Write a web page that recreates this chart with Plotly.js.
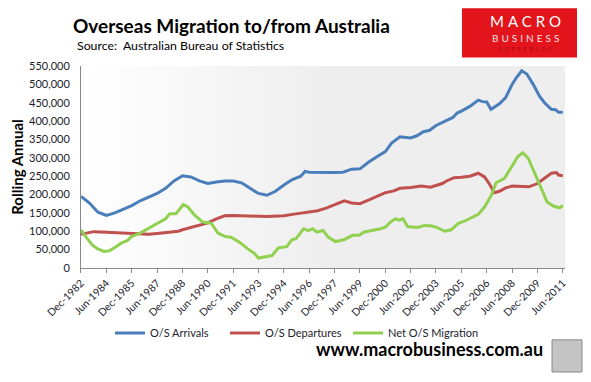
<!DOCTYPE html>
<html>
<head>
<meta charset="utf-8">
<script src="https://cdn.plot.ly/plotly-3.0.1.min.js"></script>
<style>
  html, body { margin: 0; padding: 0; background: #ffffff; }
  #chart { width: 591px; height: 382px; }
</style>
</head>
<body>
<div id="chart"></div>
<script>
// ---- Data (thousands of people, rolling annual), x = decimal year ----
const arrivalsX = [1982.92,1983.42,1983.92,1984.42,1984.92,1985.42,1985.92,1986.42,1986.92,1987.42,1987.92,1988.42,1988.92,1989.42,1989.92,1990.42,1990.92,1991.42,1991.92,1992.42,1992.92,1993.42,1993.92,1994.42,1994.92,1995.42,1995.92,1996.17,1996.42,1996.92,1997.92,1998.42,1998.92,1999.42,1999.92,2000.42,2000.92,2001.29,2001.79,2002.42,2002.79,2003.17,2003.54,2003.92,2004.42,2004.92,2005.17,2005.42,2005.92,2006.42,2006.67,2006.92,2007.17,2007.67,2008.04,2008.42,2008.67,2008.99,2009.29,2009.67,2010.04,2010.34,2010.74,2010.99,2011.17,2011.42];
const arrivals  = [195,177,152,143,150,160,170,183,194,203,217,237,251,248,237,230,234,237,237,232,217,203,198,209,226,241,250,263,261,260,260,261,269,270,288,303,317,340,357,354,360,371,375,388,399,410,422,427,440,457,453,452,432,447,464,500,518,537,528,500,468,450,432,431,424,424];

const departuresX = [1982.92,1983.42,1983.67,1984.42,1984.92,1985.42,1985.92,1986.42,1986.92,1987.42,1987.92,1988.42,1988.67,1988.92,1989.42,1989.92,1990.42,1990.92,1991.42,1991.92,1992.42,1992.92,1993.42,1993.92,1994.42,1994.92,1995.42,1995.92,1996.42,1996.92,1997.42,1997.92,1998.49,1998.92,1999.42,1999.92,2000.42,2000.92,2001.42,2001.79,2002.42,2003.04,2003.59,2003.92,2004.29,2004.54,2004.99,2005.42,2005.92,2006.42,2006.79,2007.09,2007.37,2007.67,2008.04,2008.42,2008.92,2009.42,2009.92,2010.24,2010.74,2011.04,2011.17,2011.42];
const departures  = [92,96,99,97,96,94,92,91,92,94,96,98,100,104,111,117,123,134,142,143,143,143,141,140,140,142,146,149,152,156,163,172,183,177,175,185,196,205,210,217,219,223,220,224,230,237,246,247,250,258,248,228,205,209,218,223,221,221,230,241,258,260,253,251];

const netX = [1982.92,1983.22,1983.62,1983.92,1984.27,1984.59,1984.92,1985.27,1985.67,1985.92,1986.42,1986.92,1987.42,1987.92,1988.17,1988.54,1988.97,1989.24,1989.64,1990.12,1990.62,1991.02,1991.42,1991.79,1992.29,1992.79,1993.17,1993.42,1993.92,1994.22,1994.59,1995.09,1995.39,1995.64,1996.09,1996.37,1996.62,1996.87,1997.24,1997.54,1997.97,1998.47,1998.97,1999.37,1999.67,2000.14,2000.64,2000.92,2001.22,2001.52,2001.72,2001.97,2002.24,2002.59,2002.89,2003.22,2003.59,2003.94,2004.29,2004.44,2004.82,2005.22,2005.62,2005.99,2006.42,2006.79,2007.19,2007.47,2007.97,2008.37,2008.74,2009.04,2009.37,2009.72,2010.12,2010.49,2010.89,2011.24,2011.42];
const net  = [104,84,61,52,45,47,56,67,75,86,95,107,121,134,148,148,173,166,144,125,122,95,86,84,70,52,40,27,31,34,55,58,77,80,107,102,107,98,102,84,72,77,89,89,98,102,107,111,125,134,130,134,113,111,111,116,115,111,102,100,104,121,128,136,146,166,198,232,244,274,302,314,299,262,221,180,168,164,170];

const seriesNames = ["O/S Arrivals", "O/S Departures", "Net O/S Migration"];
const seriesColors = ["#4a7ebb", "#c0504d", "#92d050"];

const xTickLabels = ["Dec-1982","Jun-1984","Dec-1985","Jun-1987","Dec-1988","Jun-1990","Dec-1991","Jun-1993","Dec-1994","Jun-1996","Dec-1997","Jun-1999","Dec-2000","Jun-2002","Dec-2003","Jun-2005","Dec-2006","Jun-2008","Dec-2009","Jun-2011"];

const titleText = "Overseas Migration to/from Australia";
const sourceText = "Source:  Australian Bureau of Statistics";
const yTitleText = "Rolling Annual";
const footerText = "www.macrobusiness.com.au";

// ---- Helpers ----
const monthIdx = {Jan:0,Feb:1,Mar:2,Apr:3,May:4,Jun:5,Jul:6,Aug:7,Sep:8,Oct:9,Nov:10,Dec:11};
const tickVals = xTickLabels.map(s => { const [m, y] = s.split("-"); return +y + monthIdx[m] / 12; });
const toPeople = arr => arr.map(v => v * 1000);

const FONT = "Lato, 'Open Sans', sans-serif";
const TXT = "#1c1c2c";

const xs = [arrivalsX, departuresX, netX];
const ys = [arrivals, departures, net];
const legendWidths = [70, 78, 90];

const traces = seriesNames.map((name, i) => ({
  type: "scatter",
  mode: "lines",
  name: name,
  x: xs[i],
  y: toPeople(ys[i]),
  line: { color: seriesColors[i], width: 3 },
  legendwidth: legendWidths[i],
  hoverinfo: "skip"
}));

const bgSvg = "data:image/svg+xml;utf8," + encodeURIComponent(
  '<svg xmlns="http://www.w3.org/2000/svg" width="100" height="100" preserveAspectRatio="none">' +
  '<defs><linearGradient id="g" x1="0" x2="1" y1="0" y2="0">' +
  '<stop offset="0" stop-color="#ffffff"/><stop offset="0.5" stop-color="#eeeeee"/><stop offset="1" stop-color="#eeeeee"/>' +
  '</linearGradient></defs><rect width="100" height="100" fill="url(#g)"/></svg>');

const layout = {
  width: 591,
  height: 382,
  margin: { l: 81, r: 26, t: 66, b: 114, pad: 0 },
  paper_bgcolor: "#ffffff",
  plot_bgcolor: "rgba(0,0,0,0)",
  font: { family: FONT, color: TXT, size: 11 },
  title: {
    text: "<b>" + titleText + "</b>",
    font: { family: FONT, size: 19, color: "#000000" },
    xref: "container", yref: "container",
    x: 73 / 591, xanchor: "left",
    y: 1 - 26 / 382, yanchor: "middle"
  },
  xaxis: {
    type: "linear",
    range: [1982.917, 2011.55],
    tickmode: "array",
    tickvals: tickVals,
    ticktext: xTickLabels,
    tickangle: -45,
    ticks: "outside",
    ticklen: 4,
    tickcolor: "#888888",
    showline: true,
    linecolor: "#888888",
    linewidth: 1,
    showgrid: false,
    zeroline: false,
    tickfont: { family: FONT, size: 10.5, color: TXT },
    fixedrange: true
  },
  yaxis: {
    range: [0, 550000],
    dtick: 50000,
    tick0: 0,
    tickformat: ",d",
    ticks: "",
    showline: true,
    linecolor: "#888888",
    linewidth: 1,
    showgrid: false,
    zeroline: false,
    ticklabelstandoff: 8,
    tickfont: { family: FONT, size: 11, color: TXT },
    title: { text: "<b>" + yTitleText + "</b>", font: { family: FONT, size: 15, color: "#000000" }, standoff: 1 },
    fixedrange: true
  },
  showlegend: true,
  legend: {
    orientation: "h",
    x: 110 / 591, xref: "container", xanchor: "left",
    y: 1 - 333 / 382, yref: "container", yanchor: "middle",
    font: { family: FONT, size: 11, color: TXT },
    itemwidth: 30,
    bgcolor: "rgba(0,0,0,0)",
    borderwidth: 0,
    tracegroupgap: 0
  },
  images: [{
    source: bgSvg,
    xref: "paper", yref: "paper",
    x: 0, y: 1, sizex: 1, sizey: 1,
    sizing: "stretch",
    xanchor: "left", yanchor: "top",
    layer: "below"
  }],
  shapes: [
    // MacroBusiness logo box
    { type: "rect", xref: "paper", yref: "paper", x0: (462 - 81) / 484, x1: (577 - 81) / 484, y0: (267.5 - 58) / 201, y1: (267.5 - 9) / 201,
      fillcolor: "#e3141c", line: { width: 0 }, layer: "above" },
    // wolf badge
    { type: "rect", xref: "paper", yref: "paper", x0: (552 - 81) / 484, x1: (582 - 81) / 484, y0: (267.5 - 371) / 201, y1: (267.5 - 339) / 201,
      fillcolor: "#c4c4c4", line: { width: 1, color: "#8a8a8a" }, layer: "above" }
  ],
  annotations: [
    { text: sourceText, xref: "paper", yref: "paper", x: (75 - 81) / 484, y: (267.5 - 46) / 201,
      xanchor: "left", yanchor: "middle", showarrow: false, font: { family: FONT, size: 12.3, color: "#000000" } },
    { text: "<b>" + footerText + "</b>", xref: "paper", yref: "paper", x: (545 - 81) / 484, y: (267.5 - 348) / 201,
      xanchor: "right", yanchor: "middle", showarrow: false, font: { family: FONT, size: 18, color: "#000000" } },
    { text: '<span style="letter-spacing:4px">MACRO</span>', xref: "paper", yref: "paper", x: (527 - 81) / 484, y: (267.5 - 21.5) / 201,
      xanchor: "center", yanchor: "middle", showarrow: false, font: { family: FONT, size: 15, color: "#ffffff" } },
    { text: '<span style="letter-spacing:3px">BUSINESS</span>', xref: "paper", yref: "paper", x: (527 - 81) / 484, y: (267.5 - 38.5) / 201,
      xanchor: "center", yanchor: "middle", showarrow: false, font: { family: FONT, size: 10, color: "#ffe0e0" } },
    { text: '<span style="letter-spacing:3px">SUPERBLOG</span>', xref: "paper", yref: "paper", x: (527 - 81) / 484, y: (267.5 - 50) / 201,
      xanchor: "center", yanchor: "middle", showarrow: false, font: { family: FONT, size: 5, color: "#9a0c12" } }
  ]
};

Plotly.newPlot("chart", traces, layout, { displayModeBar: false, staticPlot: true });
</script>
</body>
</html>
